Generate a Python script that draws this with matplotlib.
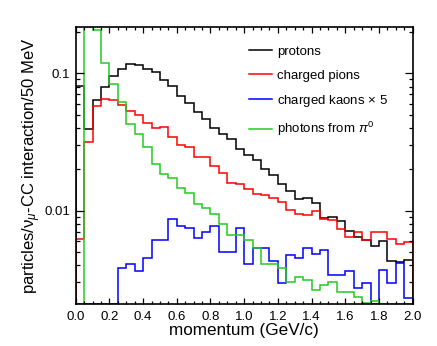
import numpy as np
import matplotlib
matplotlib.use("Agg")
import matplotlib.pyplot as plt
from matplotlib.ticker import LogLocator, FixedLocator, MultipleLocator, NullFormatter

plt.rcParams['font.family'] = ['Liberation Sans', 'DejaVu Sans']
plt.rcParams['mathtext.fontset'] = 'custom'
plt.rcParams['mathtext.rm'] = 'Liberation Sans'
plt.rcParams['mathtext.it'] = 'Liberation Sans:italic'

# 50 MeV bins from 0 to 2 GeV/c
bin_edges = np.linspace(0.0, 2.0, 41)

protons = [0.0808, 0.0391, 0.0639, 0.0799, 0.0956, 0.1069, 0.1163, 0.1143, 0.1069, 0.1027,
           0.0894, 0.0812, 0.0684, 0.0611, 0.0525, 0.0463, 0.0398, 0.0363, 0.0331, 0.0280,
           0.0254, 0.0233, 0.0201, 0.0182, 0.01556, 0.0140, 0.0121, 0.0123, 0.01138, 0.00885,
           0.00892, 0.00841, 0.00706, 0.00647, 0.00612, 0.00553, 0.00605, 0.00433, 0.00423, 0.00434]

pions = [0.00619, 0.0315, 0.0578, 0.0653, 0.0636, 0.0585, 0.0529, 0.0497, 0.0437, 0.0398,
         0.0405, 0.0346, 0.0301, 0.0292, 0.0245, 0.0245, 0.0210, 0.0188, 0.0159, 0.0155,
         0.0143, 0.0133, 0.0130, 0.0124, 0.01147, 0.01007, 0.00942, 0.00923, 0.00990, 0.00867,
         0.00851, 0.00730, 0.00638, 0.00700, 0.00612, 0.00703, 0.00703, 0.00624, 0.00575, 0.00587]

kaons_x5 = [0.0, 0.0, 0.0, 0.0, 0.0, 0.00385, 0.00407, 0.00366, 0.00455, 0.00612,
            0.00612, 0.00863, 0.00774, 0.00745, 0.00633, 0.00703, 0.00774, 0.00498, 0.00498, 0.00745,
            0.00409, 0.00538, 0.00538, 0.00430, 0.00299, 0.00476, 0.00455, 0.00538, 0.00482, 0.00518,
            0.00340, 0.00340, 0.00364, 0.00274, 0.00298, 0.0, 0.00370, 0.00295, 0.00414, 0.00230]

photons = [0.0, 0.35, 0.2066, 0.1183, 0.0832, 0.0615, 0.0425, 0.0361, 0.0289, 0.0219,
           0.0185, 0.0172, 0.0146, 0.0134, 0.0111, 0.0104, 0.00946, 0.00800, 0.00665, 0.00665,
           0.00607, 0.00532, 0.00406, 0.00406, 0.00381, 0.00303, 0.00326, 0.00313, 0.00266, 0.00285,
           0.00304, 0.00257, 0.00257, 0.00234, 0.00212, 0.00218, 0.0, 0.0, 0.0, 0.0]

labels = ['protons', 'charged pions', r'charged kaons $\times$ 5', r'photons from $\pi^0$']
colors = ['#000000', '#ff0000', '#0000ff', '#22cc22']

ylo, yhi = 0.00209, 0.218

fig = plt.figure(figsize=(4.37, 3.46), dpi=100)
ax = fig.add_axes([0.1732, 0.1214, 0.7712, 0.8014])

for vals, lab, col in zip([protons, pions, kaons_x5, photons], labels, colors):
    v = np.clip(np.array(vals), ylo, yhi)
    ax.stairs(v, bin_edges, baseline=ylo, color=col, lw=1.1, label=lab)

ax.set_yscale('log')
ax.set_xlim(0, 2.0)
ax.set_ylim(ylo, yhi)

ax.xaxis.set_major_locator(MultipleLocator(0.2))
ax.xaxis.set_minor_locator(MultipleLocator(0.05))
ax.xaxis.set_major_formatter(plt.FuncFormatter(lambda x, p: f"{x:.1f}"))
ax.yaxis.set_major_locator(FixedLocator([0.01, 0.1]))
ax.yaxis.set_major_formatter(plt.FuncFormatter(lambda y, p: f"{y:g}"))
ax.yaxis.set_minor_locator(LogLocator(base=10, subs=np.arange(2, 10)))
ax.yaxis.set_minor_formatter(NullFormatter())

ax.tick_params(which='both', direction='in', top=True, right=True, labelsize=9.5, width=0.9)
ax.tick_params(axis='y', which='major', length=5.8, pad=4)
ax.tick_params(axis='y', which='minor', length=2.9)
ax.tick_params(axis='x', which='major', length=4.3, pad=5)
ax.tick_params(axis='x', which='minor', length=2.0)
for s in ax.spines.values():
    s.set_linewidth(1.2)

ax.set_xlabel('momentum (GeV/c)', fontsize=12.3, labelpad=0)
ax.set_ylabel(r'particles/ν$_{\mu}$-CC interaction/50 MeV', fontsize=12, labelpad=1)

leg = ax.legend(loc='upper left', bbox_to_anchor=(0.5, 0.95), frameon=False, fontsize=9.5,
                handlelength=1.7, handletextpad=0.4, labelspacing=0.85, borderaxespad=0)
for h in leg.get_lines():
    h.set_linewidth(1.1)

fig.savefig('out.png', dpi=100)
